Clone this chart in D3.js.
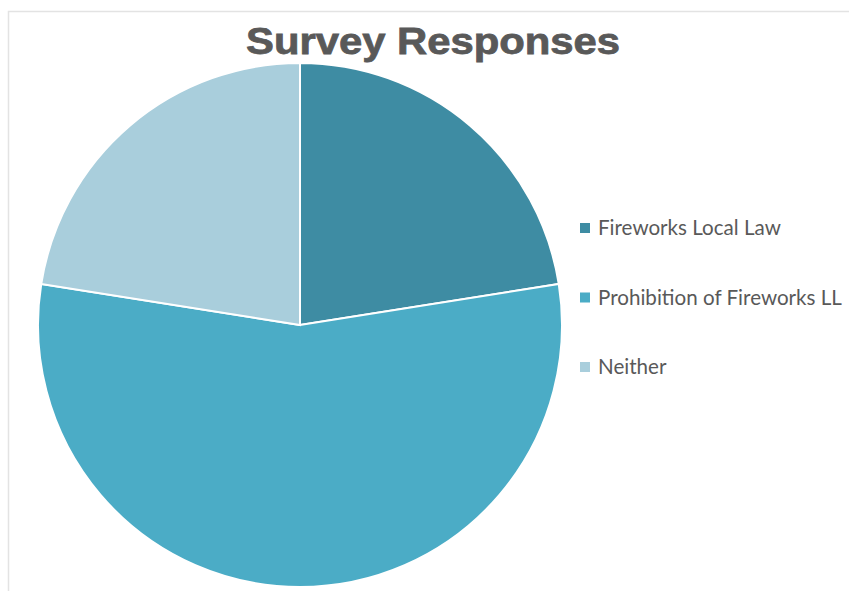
<!DOCTYPE html>
<html>
<head>
<meta charset="utf-8">
<script src="https://cdn.jsdelivr.net/npm/d3@7"></script>
<style>
  body { margin: 0; background: #fff; }
</style>
</head>
<body>
<div id="chart"></div>
<script>
const categories = ["Fireworks Local Law", "Prohibition of Fireworks LL", "Neither"];
const responses = [9, 22, 9];
const colors = ["#3e8ca3", "#4bacc6", "#a9cedc"];

const width = 849, height = 591;
const svg = d3.select("#chart").append("svg")
  .attr("width", width)
  .attr("height", height);

// chart frame (only top and left edges visible in the crop)
svg.append("rect")
  .attr("x", 8.5).attr("y", 11.5)
  .attr("width", 900).attr("height", 700)
  .attr("fill", "none")
  .attr("stroke", "#e3e3e3")
  .attr("stroke-width", 1.5);

// title is drawn wide and heavy in the original
svg.append("text")
  .attr("x", 246).attr("y", 54)
  .attr("textLength", 374)
  .attr("lengthAdjust", "spacingAndGlyphs")
  .attr("font-family", "Liberation Sans, Arial, sans-serif")
  .attr("font-weight", "bold")
  .attr("font-size", 37)
  .attr("fill", "#595959")
  .attr("stroke", "#595959")
  .attr("stroke-width", 0.8)
  .text("Survey Responses");

const color = d3.scaleOrdinal().domain(categories).range(colors);

const pie = d3.pie().sort(null).value(d => d.value);
const arc = d3.arc().innerRadius(0).outerRadius(262);

const data = categories.map((c, i) => ({ name: c, value: responses[i] }));

svg.append("g")
  .attr("transform", "translate(300, 325)")
  .selectAll("path")
  .data(pie(data))
  .join("path")
  .attr("d", arc)
  .attr("fill", d => color(d.data.name))
  .attr("stroke", "#fff")
  .attr("stroke-width", 2);

const legend = svg.append("g")
  .selectAll("g")
  .data(categories)
  .join("g")
  .attr("transform", (d, i) => `translate(580, ${228 + i * 69.5})`);

legend.append("rect")
  .attr("x", 0).attr("y", -5)
  .attr("width", 10).attr("height", 10)
  .attr("fill", d => color(d));

legend.append("text")
  .attr("x", 18).attr("dy", "0.35em")
  .attr("font-family", "Lato, 'Open Sans', sans-serif")
  .attr("font-size", 20.6)
  .attr("fill", "#595959")
  .text(d => d);
</script>
</body>
</html>
